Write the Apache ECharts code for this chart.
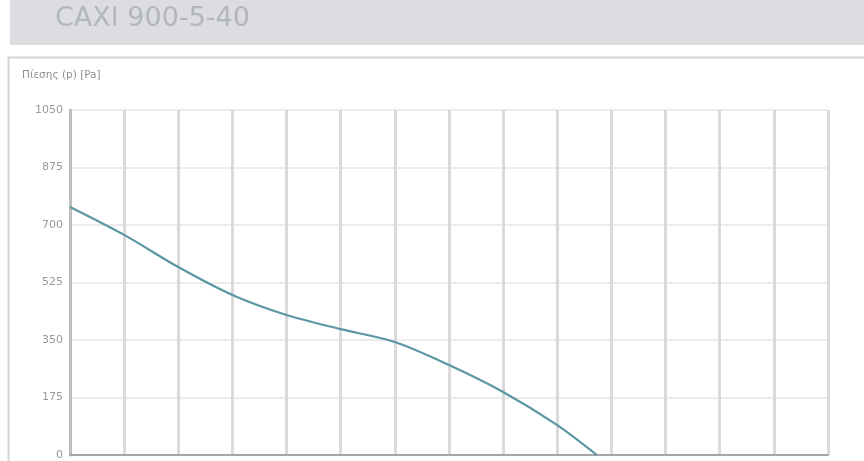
<!DOCTYPE html>
<html>
<head>
<meta charset="utf-8">
<script src="https://cdn.jsdelivr.net/npm/echarts@6/dist/echarts.min.js"></script>
<style>
html,body{margin:0;padding:0;background:#fff;}
#c{width:864px;height:461px;}
</style>
</head>
<body>
<div id="c"></div>
<script>
const titleText = 'CAXI 900-5-40';
const yAxisName = 'Πίεσης (p) [Pa]';
const yTicks = [0, 175, 350, 525, 700, 875, 1050];
const flowValues = [0, 1, 2, 3, 4, 5, 6, 7, 8, 9, 9.73];
const pressureValues = [755, 670, 572, 487, 426, 383, 344, 274, 192, 91, 0];

const chart = echarts.init(document.getElementById('c'), null, {renderer: 'canvas'});
const seriesData = flowValues.map((x, i) => [x, pressureValues[i]]);
chart.setOption({
  animation: false,
  backgroundColor: '#ffffff',
  graphic: [
    {type: 'rect', shape: {x: 10, y: 0, width: 854, height: 45}, style: {fill: '#dcdde1'}, z: 0},
    {type: 'text', left: 55, top: 5, style: {text: titleText, fill: '#b3b6bc', font: '27px "DejaVu Sans"'}},
    {type: 'rect', shape: {x: 8.5, y: 57.5, width: 870, height: 420}, style: {fill: 'none', stroke: '#d4d4d4', lineWidth: 2}, z: 0},
    {type: 'text', left: 22, top: 70, style: {text: yAxisName, fill: '#8e8e8e', font: '10.5px "DejaVu Sans"'}}
  ],
  grid: {left: 70, right: 36, top: 110, bottom: 6, containLabel: false},
  xAxis: {
    type: 'value', min: 0, max: 14, interval: 1,
    axisLine: {show: true, lineStyle: {color: '#a4a6ac', width: 2}},
    axisTick: {show: false},
    axisLabel: {show: false},
    splitLine: {show: true, lineStyle: {color: '#dadada', width: 3}}
  },
  yAxis: {
    type: 'value', min: 0, max: 1050, interval: 175,
    axisLine: {show: true, onZero: false, lineStyle: {color: '#bdbdbd', width: 3}},
    axisTick: {show: false},
    axisLabel: {color: '#999999', fontSize: 11, fontFamily: 'DejaVu Sans', margin: 7,
      formatter: v => yTicks.includes(v) ? String(v) : ''},
    splitLine: {show: true, lineStyle: {color: '#ececec', width: 2}}
  },
  series: [{
    type: 'line',
    data: seriesData,
    smooth: 0.3,
    symbol: 'none',
    lineStyle: {color: '#5b96a3', width: 2.2}
  }]
});
</script>
</body>
</html>
